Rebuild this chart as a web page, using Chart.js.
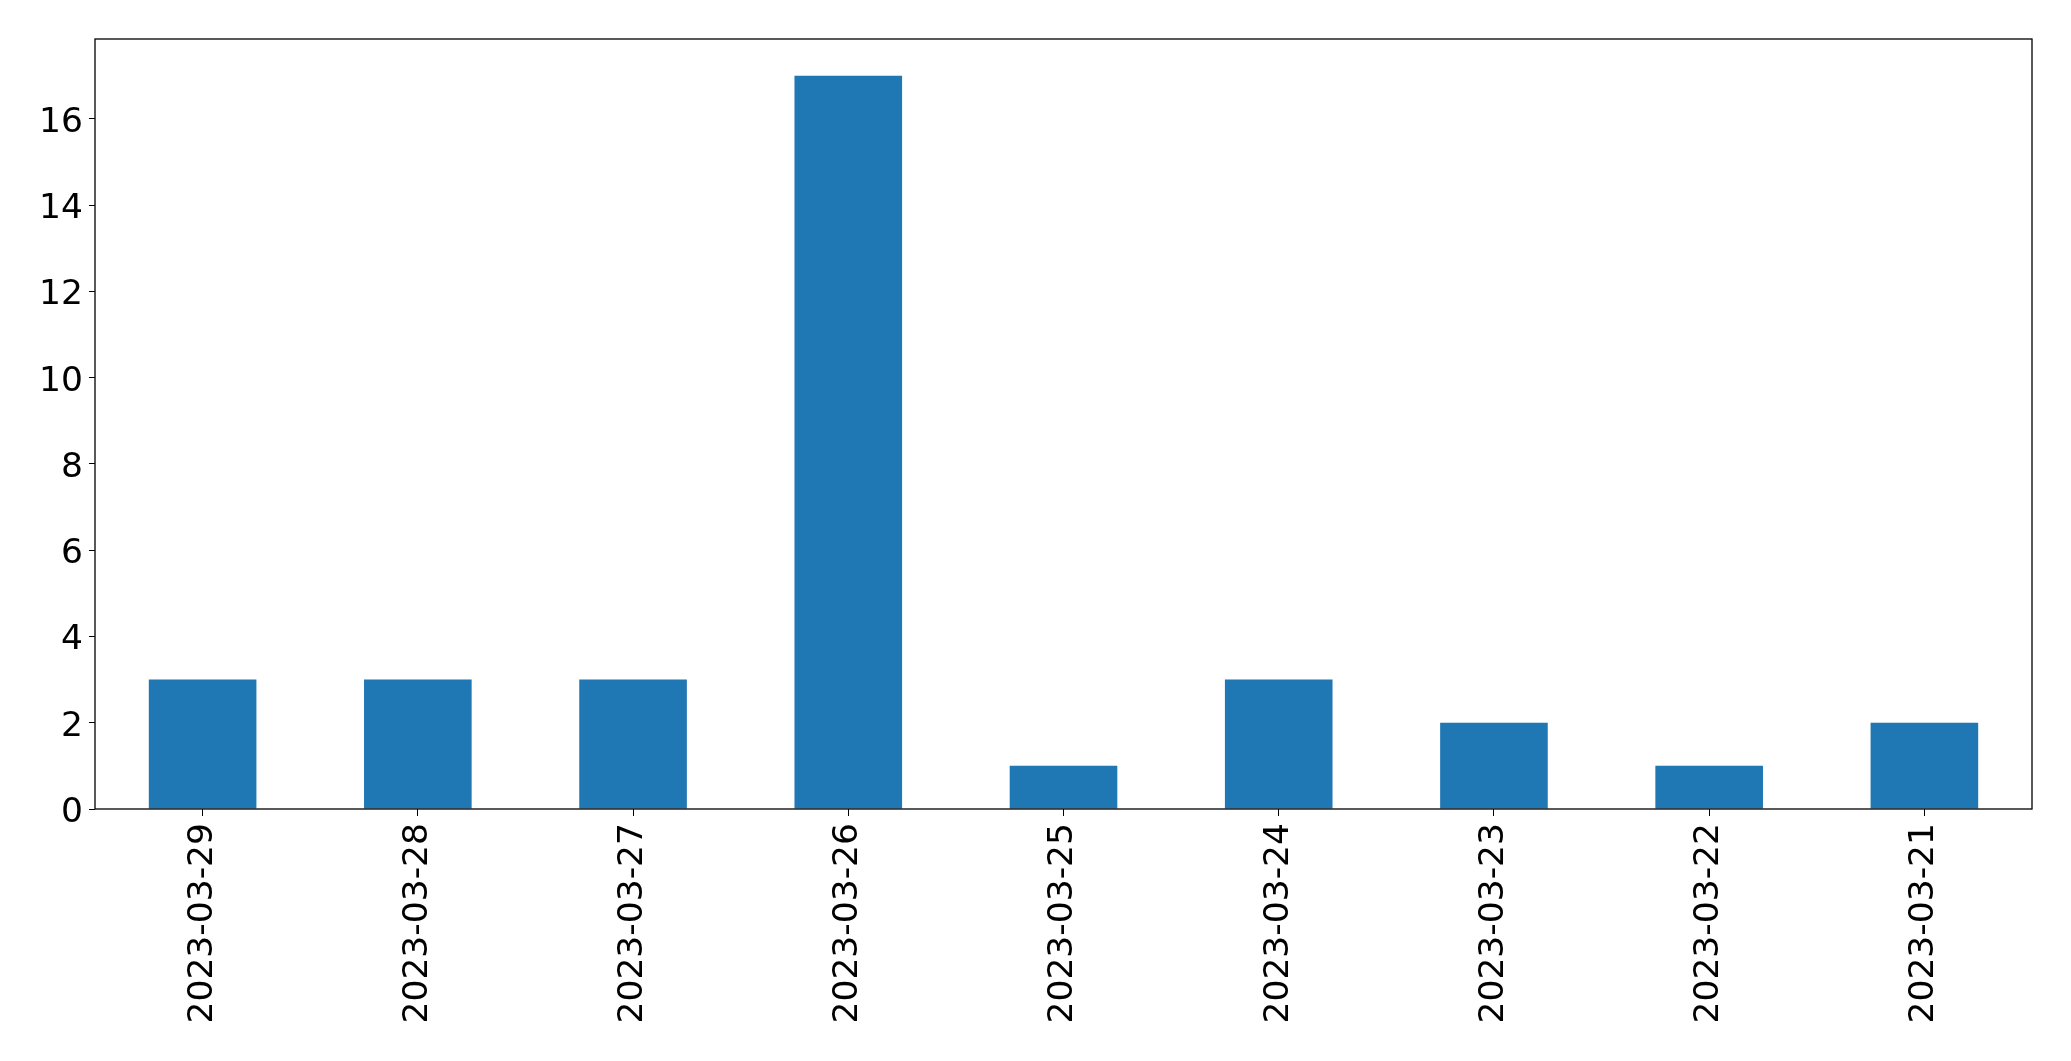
<!DOCTYPE html>
<html>
<head>
<meta charset="utf-8">
<script src="https://cdn.jsdelivr.net/npm/chart.js@4"></script>
<style>
  body { margin: 0; background: #fff; }
  #wrap { width: 2071px; height: 1061px; position: relative; }
</style>
</head>
<body>
<div id="wrap"><canvas id="barChart"></canvas></div>
<script>
const dates = ['2023-03-29', '2023-03-28', '2023-03-27', '2023-03-26', '2023-03-25',
               '2023-03-24', '2023-03-23', '2023-03-22', '2023-03-21'];
const counts = [3, 3, 3, 17, 1, 3, 2, 1, 2];
const yTicks = [0, 2, 4, 6, 8, 10, 12, 14, 16];

document.addEventListener("DOMContentLoaded", function () {
    const font = { family: "'DejaVu Sans', sans-serif", size: 34.5 };

    // draws the full box around the plot area
    const frame = {
        id: 'frame',
        afterDraw: function (chart) {
            const a = chart.chartArea;
            const ctx = chart.ctx;
            ctx.save();
            ctx.strokeStyle = '#000';
            ctx.lineWidth = 1.3;
            ctx.strokeRect(a.left, a.top, a.right - a.left, a.bottom - a.top);
            ctx.restore();
        }
    };

    const ctx = document.getElementById('barChart').getContext('2d');
    new Chart(ctx, {
        type: 'bar',
        data: {
            labels: dates,
            datasets: [{
                data: counts,
                backgroundColor: '#1f77b4',
                barPercentage: 0.5,
                categoryPercentage: 1.0
            }]
        },
        options: {
            responsive: true,
            maintainAspectRatio: false,
            animation: false,
            layout: { padding: { top: 39, right: 39, left: 0, bottom: 0 } },
            plugins: {
                legend: { display: false },
                tooltip: { enabled: false }
            },
            scales: {
                x: {
                    offset: true,
                    grid: { display: true, offset: false, drawOnChartArea: false, drawTicks: true, tickLength: 7, color: '#000' },
                    border: { display: false },
                    ticks: { color: '#000', font: font, minRotation: 90, maxRotation: 90, padding: 7, autoSkip: false },
                    afterFit: function (scale) { scale.height = 252; }
                },
                y: {
                    min: 0,
                    max: 17.85,
                    grid: { display: true, drawOnChartArea: false, drawTicks: true, tickLength: 6, color: '#000' },
                    border: { display: false },
                    ticks: { color: '#000', font: font, padding: 6, labelOffset: 4 },
                    afterBuildTicks: function (axis) {
                        axis.ticks = yTicks.map(function (v) { return { value: v }; });
                    },
                    afterFit: function (scale) { scale.width = 95; }
                }
            }
        },
        plugins: [frame]
    });
});
</script>
</body>
</html>
